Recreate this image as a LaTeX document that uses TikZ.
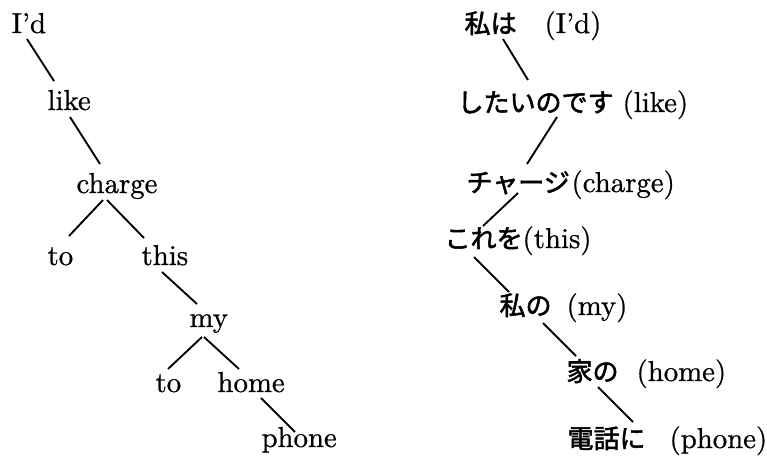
\documentclass[tikz,border=0pt]{standalone}
\usepackage{fontspec}
\setmainfont{Latin Modern Roman}[FakeBold=0.8]
\newfontfamily\jp{Noto Sans CJK JP}[FakeBold=2]
\tikzset{
  w/.style={anchor=base west, inner sep=0pt, font=\fontsize{10}{12}\selectfont},
  jw/.style={anchor=base west, inner sep=0pt, font=\fontsize{9.03}{11}\jp},
  edge/.style={draw=black, line width=0.65pt}
}
\begin{document}
\begin{tikzpicture}[x=0.3472pt, y=-0.3472pt]
\useasboundingbox (0,0) rectangle (767,462);
% left tree
\node[w] (Id) at (11,33) {I’d};
\node[w] (like) at (47,110) {like};
\node[w] (charge) at (76,193) {charge};
\node[w] (toa) at (47,265) {to};
\node[w] (this) at (141,265) {this};
\node[w] (my) at (189,327) {my};
\node[w] (tob) at (155,392) {to};
\node[w] (home) at (217,392) {home};
\node[w] (phone) at (261,447) {phone};
\draw[edge] ([shift={(16,6)}]Id.base west) -- ([shift={(7,-29)}]like.base west);
\draw[edge] ([shift={(23,7)}]like.base west) -- ([shift={(24,-29)}]charge.base west);
\draw[edge] ([shift={(27,7)}]charge.base west) -- ([shift={(22,-29)}]toa.base west);
\draw[edge] ([shift={(31,7)}]charge.base west) -- ([shift={(3,-27)}]this.base west);
\draw[edge] ([shift={(21,7)}]this.base west) -- ([shift={(8,-23)}]my.base west);
\draw[edge] ([shift={(13,10)}]my.base west) -- ([shift={(13,-23)}]tob.base west);
\draw[edge] ([shift={(15,10)}]my.base west) -- ([shift={(22,-23)}]home.base west);
\draw[edge] ([shift={(44,6)}]home.base west) -- ([shift={(34,-15)}]phone.base west);
% right tree
\node[jw] (j1) at (464,33) {私は};
\node[w] (g1) at (544,33) {(I’d)};
\node[jw] (j2) at (457,112) {したいのです};
\node[w] (g2) at (622,112) {(like)};
\node[jw] (j3) at (466,192) {チャージ};
\node[w] (g3) at (571,192) {(charge)};
\node[jw] (j4) at (444,248) {これを};
\node[w] (g4) at (522,248) {(this)};
\node[jw] (j5) at (499,315) {私の};
\node[w] (g5) at (566,315) {(my)};
\node[jw] (j6) at (566,381) {家の};
\node[w] (g6) at (636,381) {(home)};
\node[jw] (j7) at (567,448) {電話に};
\node[w] (g7) at (669,448) {(phone)};
\draw[edge] ([shift={(39,6)}]j1.base west) -- ([shift={(71,-32)}]j2.base west);
\draw[edge] ([shift={(100,5)}]j2.base west) -- ([shift={(61,-28)}]j3.base west);
\draw[edge] ([shift={(52,1)}]j3.base west) -- ([shift={(39,-22)}]j4.base west);
\draw[edge] ([shift={(30,9)}]j4.base west) -- ([shift={(10,-23)}]j5.base west);
\draw[edge] ([shift={(44,8)}]j5.base west) -- ([shift={(10,-25)}]j6.base west);
\draw[edge] ([shift={(32,6)}]j6.base west) -- ([shift={(66,-26)}]j7.base west);
\end{tikzpicture}
\end{document}
